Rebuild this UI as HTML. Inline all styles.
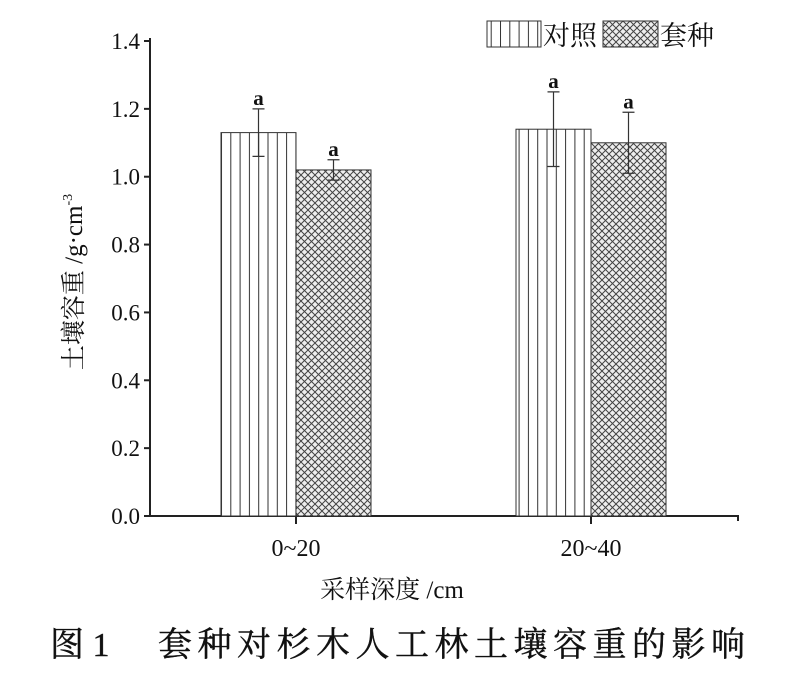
<!DOCTYPE html>
<html><head><meta charset="utf-8"><style>
body{margin:0;background:#fff}
text{font-family:"Liberation Serif","Noto Serif CJK SC",serif;fill:#111}
</style></head><body>
<svg id="c" width="786" height="673" viewBox="0 0 786 673" xmlns="http://www.w3.org/2000/svg">
<defs>
<pattern id="vs" patternUnits="userSpaceOnUse" width="9.3" height="10" x="221"><rect width="9.3" height="10" fill="#fff"/><line x1="0.5" y1="0" x2="0.5" y2="10" stroke="#333" stroke-width="1"/></pattern>
<pattern id="xh" patternUnits="userSpaceOnUse" width="7" height="7"><rect width="7" height="7" fill="#eee"/><path d="M0,0L7,7M7,0L0,7" stroke="#444" stroke-width="1"/></pattern>
</defs>
<g id="plot"></g>
<g>
<rect x="487" y="21" width="54" height="26" fill="url(#vs)" stroke="#333"/>
<text x="543" y="45" font-size="27">对照</text>
<rect x="603" y="21" width="55" height="26" fill="url(#xh)" stroke="#333"/>
<text x="660" y="45" font-size="27">套种</text>
</g>
<text transform="translate(82,282) rotate(-90)" text-anchor="middle" font-size="25">土壤容重 /g·cm<tspan font-size="14" dy="-10">-3</tspan></text>
<text x="392" y="598" text-anchor="middle" font-size="25">采样深度 /cm</text>
<text x="50" y="656" font-size="34" stroke="#111" stroke-width="0.4">图 1</text>
<text x="158" y="656" font-size="34" letter-spacing="5.5" stroke="#111" stroke-width="0.4">套种对杉木人工林土壤容重的影响</text>
</svg>
<script>
const categories=["0~20","20~40"];
const controlValues=[1.13,1.14];
const intercropValues=[1.02,1.10];
const controlErr=[0.07,0.11];
const intercropErr=[0.03,0.09];
const sigLabelsControl=["a","a"];
const sigLabelsIntercrop=["a","a"];
const yTicks=[0,0.2,0.4,0.6,0.8,1.0,1.2,1.4];
const NS="http://www.w3.org/2000/svg";
const g=document.getElementById("plot");
const y0=516,yTop=41,yMax=1.4,xL=150,xR=738;
const y=v=>y0-(v/yMax)*(y0-yTop);
const groupC=[296,591],bw=75;
function mk(t,a,txt){const e=document.createElementNS(NS,t);for(const k in a)e.setAttribute(k,a[k]);if(txt!==undefined)e.textContent=txt;g.appendChild(e);return e;}
let e=mk("line",{x1:xL,y1:yTop-3,x2:xL,y2:y0,stroke:"#222","stroke-width":2});

e=mk("path",{d:`M${xL},${y0}H${xR}V${y0+5}`,stroke:"#222","stroke-width":2,fill:"none"});

yTicks.forEach(v=>{
 const t=mk("line",{x1:xL-6,y1:y(v),x2:xL,y2:y(v),stroke:"#222","stroke-width":2});
 
 const l=mk("text",{x:xL-10,y:y(v)+8,"text-anchor":"end","font-size":23},v.toFixed(1));
 
});
categories.forEach((c,i)=>{
 const cx=groupC[i];
 const t=mk("line",{x1:cx,y1:y0,x2:cx,y2:y0+8,stroke:"#222","stroke-width":2});
 
 const l=mk("text",{x:cx,y:y0+40,"text-anchor":"middle","font-size":24},c);
 
 [[controlValues,controlErr,sigLabelsControl,"url(#vs)",cx-bw,"control"],[intercropValues,intercropErr,sigLabelsIntercrop,"url(#xh)",cx,"intercrop"]].forEach(s=>{
  const v=s[0][i],er=s[1][i],x=s[4],m=x+bw/2;
  const b=mk("rect",{x:x,y:y(v),width:bw,height:y0-y(v),fill:s[3],stroke:"#333","stroke-width":1});
  
  const el=mk("path",{d:`M${m},${y(v-er)}V${y(v+er)}M${m-6},${y(v+er)}H${m+6}M${m-6},${y(v-er)}H${m+6}`,stroke:"#333","stroke-width":1.2,fill:"none"});
  
  const sl=mk("text",{x:m,y:y(v+er)-4,"text-anchor":"middle","font-size":21,"font-weight":"bold"},s[2][i]);
  
 });
});
</script>
</body></html>
